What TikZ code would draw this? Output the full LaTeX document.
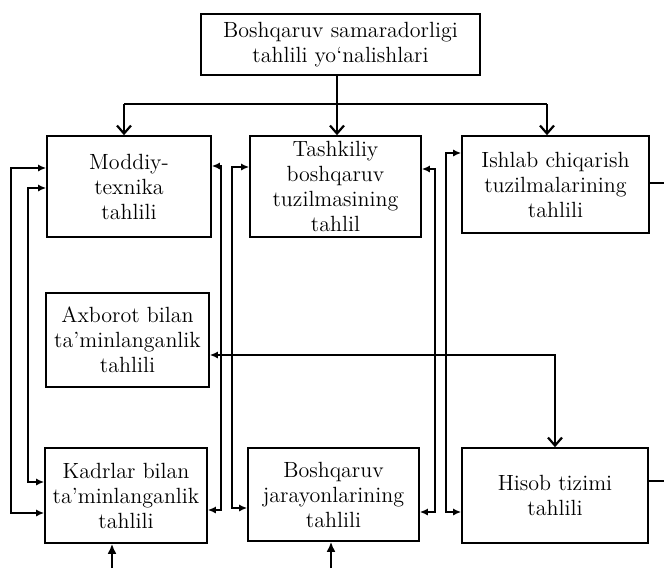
\documentclass[tikz,border=0pt]{standalone}
\usetikzlibrary{arrows.meta}
\tikzset{
  blok/.style={draw, line width=0.8pt, align=center, inner xsep=2pt, inner ysep=0pt, font=\fontsize{11}{12.5}\selectfont},
  ulash/.style={line width=1pt},
  bosh/.style={-{Straight Barb[length=4pt,width=7pt,line width=1.1pt]}},
  uch/.style={{Latex[length=4pt,width=3.5pt]}-{Latex[length=4pt,width=3.5pt]}}
}
\begin{document}
\begin{tikzpicture}[x=0.5pt, y=-0.5pt]
  \useasboundingbox (0,0) rectangle (664,568);
  \node[blok, minimum width=139.5pt, minimum height=30.5pt] (yonalish) at (340.5,44.5) {Boshqaruv samaradorligi\\tahlili yo`nalishlari};
  \node[blok, minimum width=82pt, minimum height=50.5pt] (moddiy) at (129,186.5) {Moddiy-\\texnika\\tahlili};
  \node[blok, minimum width=85.5pt, minimum height=50.5pt] (tashkiliy) at (335.5,186.5) {Tashkiliy\\boshqaruv\\tuzilmasining\\tahlil};
  \node[blok, minimum width=93.5pt, minimum height=48.5pt] (ishlab) at (555.5,184.5) {Ishlab chiqarish\\tuzilmalarining\\tahlili};
  \node[blok, minimum width=81.5pt, minimum height=47pt] (axborot) at (127.5,340) {Axborot bilan\\ta'minlanganlik\\tahlili};
  \node[blok, minimum width=81pt, minimum height=47.5pt] (kadrlar) at (126,495.5) {Kadrlar bilan\\ta'minlanganlik\\tahlili};
  \node[blok, minimum width=85.5pt, minimum height=46.5pt] (jarayon) at (333.5,494.5) {Boshqaruv\\jarayonlarining\\tahlili};
  \node[blok, minimum width=93pt, minimum height=47.5pt] (hisob) at (555,495.5) {Hisob tizimi\\tahlili};

  % yuqori tarmoq
  \coordinate (busL) at (124,104);
  \coordinate (busM) at (337,104);
  \coordinate (busR) at (547,104);
  \draw[ulash] (busM |- yonalish.south) -- (busM);
  \draw[ulash] (busL) -- (busR);
  \foreach \c/\n in {busL/moddiy, busM/tashkiliy, busR/ishlab}
    \draw[ulash, bosh] (\c) -- (\c |- \n.north);

  % yon aloqalar
  \foreach \a/\ya/\dx/\b/\yb in {moddiy/168/-35/kadrlar/513, moddiy/188/-18/kadrlar/482, tashkiliy/167/-17/jarayon/508, ishlab/153/-15/hisob/512}
    \draw[ulash, uch] (\a.west |- 0,\ya) -- ++(\dx,0) |- (\b.west |- 0,\yb);
  \foreach \a/\ya/\dx/\b/\yb in {moddiy/166/9/kadrlar/510, tashkiliy/169/13/jarayon/512}
    \draw[ulash, uch] (\a.east |- 0,\ya) -- ++(\dx,0) |- (\b.east |- 0,\yb);

  \draw[ulash, {Latex[length=4pt,width=3.5pt]}-{Straight Barb[length=4pt,width=7pt,line width=1.1pt]}] (axborot.east |- 0,355) -| (hisob.north);

  % chetdagi chiziqlar
  \coordinate (ishlabR) at (664,183);
  \coordinate (hisobR) at (664,481);
  \draw[line width=0.7pt] (ishlab.east |- ishlabR) -- (ishlabR);
  \draw[line width=0.7pt] (hisob.east |- hisobR) -- (hisobR);

  \coordinate (kadrlarB) at (112,568);
  \coordinate (jarayonB) at (331,568);
  \foreach \c/\n in {kadrlarB/kadrlar, jarayonB/jarayon}
    \draw[ulash, -{Latex[length=5pt,width=4.5pt]}] (\c) -- (\c |- \n.south);
\end{tikzpicture}
\end{document}
